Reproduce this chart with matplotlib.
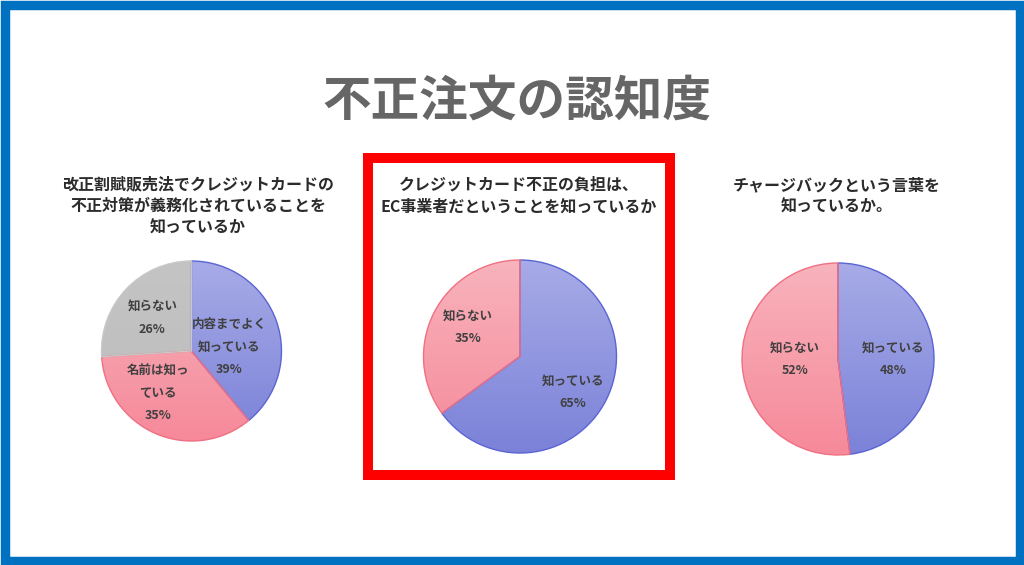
import numpy as np
import matplotlib
matplotlib.use('Agg')
import matplotlib.pyplot as plt
from matplotlib.colors import LinearSegmentedColormap
from matplotlib.patches import Rectangle

plt.rcParams['font.family'] = ['Noto Sans CJK JP', 'DejaVu Sans']

# データ
title = '不正注文の認知度'

q1_title = '改正割賦販売法でクレジットカードの\n不正対策が義務化されていることを\n知っているか'
q1_labels = ['内容までよく\n知っている', '名前は知っ\nている', '知らない']
q1_values = [39, 35, 26]

q2_title = 'クレジットカード不正の負担は、\nEC事業者だということを知っているか'
q2_labels = ['知っている', '知らない']
q2_values = [65, 35]

q3_title = 'チャージバックという言葉を\n知っているか。'
q3_labels = ['知っている', '知らない']
q3_values = [48, 52]

# 色 (上, 下, 枠)
blue = ('#a7abe7', '#7b82d8', '#5a64d4')
pink = ('#f8b3bc', '#f6899a', '#ef7083')
gray = ('#c4c4c4', '#bcbcbc', '#c8c8c8')

W, H = 1024, 565
fig = plt.figure(figsize=(W / 100, H / 100), dpi=100)
fig.patch.set_facecolor('white')


def fx(x):
    return x / W


def fy(y):
    return 1 - y / H


def draw_pie(cx, cy, r, values, labels, colors, place):
    # place: ラベルごとの (中心からの距離, 角度のずらし)
    pad = 1.02
    rp = r * pad
    ax = fig.add_axes([fx(cx - rp), fy(cy + rp), 2 * rp / W, 2 * rp / H])
    wedges, _ = ax.pie(values, startangle=90, counterclock=False, radius=1,
                       wedgeprops=dict(linewidth=1.0))
    grad = np.linspace(0, 1, 256).reshape(-1, 1)
    for w, v, lab, c, (d, sh) in zip(wedges, values, labels, colors, place):
        cmap = LinearSegmentedColormap.from_list('g', [c[0], c[1]])
        im = ax.imshow(grad, extent=(-1, 1, -1, 1), origin='upper', cmap=cmap,
                       aspect='auto', zorder=1)
        im.set_clip_path(w)
        w.set_facecolor('none')
        w.set_edgecolor(c[2])
        w.set_zorder(2)
        ang = np.deg2rad((w.theta1 + w.theta2) / 2 + sh)
        ax.text(d * np.cos(ang), d * np.sin(ang), f'{lab}\n{v}%',
                ha='center', va='center', fontsize=9, fontweight='bold',
                color='#404040', linespacing=1.95, zorder=3)
    ax.set_xlim(-pad, pad)
    ax.set_ylim(-pad, pad)
    ax.axis('off')


draw_pie(191.5, 351, 90, q1_values, q1_labels, [blue, pink, gray],
         [(0.42, -14), (0.6, -15), (0.57, 3)])
draw_pie(520, 356.5, 96.5, q2_values, q2_labels, [blue, pink],
         [(0.66, -7), (0.62, -2)])
draw_pie(838, 359, 96, q3_values, q3_labels, [blue, pink],
         [(0.57, -3.6), (0.45, -3.6)])

fig.text(fx(517), fy(101), title, ha='center', va='center', fontsize=35,
         fontweight='bold', color='#666666')

sub_kw = dict(ha='center', va='top', fontsize=11.5, fontweight='bold',
              color='#2b2b2b', linespacing=1.45)
fig.text(fx(198), fy(176), q1_title, **sub_kw)
fig.text(fx(519), fy(177), q2_title, **sub_kw)
fig.text(fx(837), fy(177), q3_title, **sub_kw)

# 赤枠
fig.patches.append(Rectangle((fx(368), fy(474.5)), (670 - 368) / W, (474.5 - 158) / H,
                             transform=fig.transFigure, fill=False,
                             edgecolor='#ff0000', linewidth=7.2))
# 青い外枠
fig.patches.append(Rectangle((fx(4.5), fy(560.5)), (W - 9) / W, (H - 9.5) / H,
                             transform=fig.transFigure, fill=False,
                             edgecolor='#0070c0', linewidth=6.8))

fig.savefig('out.png', dpi=100, facecolor='white')
